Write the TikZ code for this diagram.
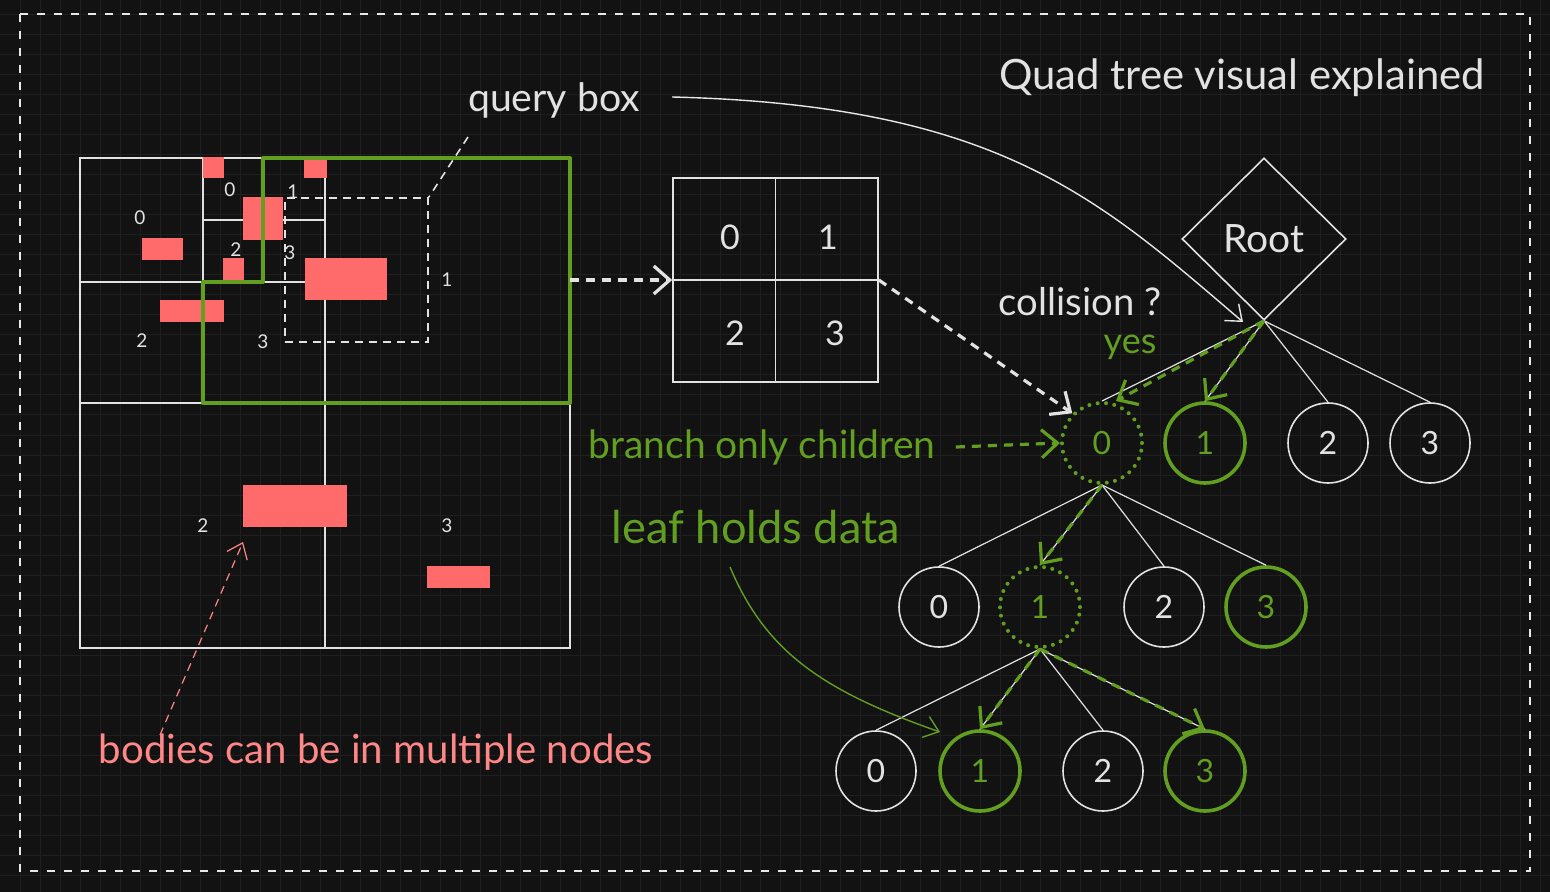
\documentclass[tikz,border=0pt]{standalone}
\usepackage{fontspec}
\setmainfont{Lato}
\usetikzlibrary{shapes.geometric, arrows.meta, positioning}
\definecolor{bgdark}{RGB}{18,18,18}
\definecolor{gridgray}{RGB}{31,31,31}
\definecolor{inkwhite}{RGB}{226,226,226}
\definecolor{hitgreen}{RGB}{98,158,32}
\definecolor{bodyred}{RGB}{255,107,107}
\definecolor{notepink}{RGB}{255,135,135}
\tikzstyle{cell} = [draw=inkwhite, line width=0.8pt]
\tikzstyle{flow} = [-{Straight Barb[length=8pt, width=14pt]}, line width=1.6pt, dash pattern=on 4.5pt off 3.5pt]

\begin{document}
\begin{tikzpicture}[x=0.5pt, y=-0.5pt,
  say/.style={text=inkwhite, font=\fontsize{19.5}{22}\selectfont, inner sep=0pt},
  tag/.style={text=inkwhite, font=\fontsize{9.5}{10}\selectfont, inner sep=0pt},
  leaf/.style={circle, draw=inkwhite, line width=0.8pt, minimum size=40pt, inner sep=0pt, text=inkwhite, font=\fontsize{16}{18}\selectfont},
  found/.style={leaf, draw=hitgreen, text=hitgreen, line width=1.8pt},
  branch/.style={leaf, draw=hitgreen, text=hitgreen, line width=2pt, line cap=round, dash pattern=on 0pt off 4.2pt},
  edge/.style={draw=inkwhite, line width=0.6pt},
  hit/.style={flow, draw=hitgreen, line width=1.6pt},
  thin/.style={line width=0.7pt, -{Straight Barb[length=7pt, width=11pt]}}]

  % background and grid
  \fill[bgdark] (0,0) rectangle (1550,892);
  \useasboundingbox (0,0) rectangle (1550,892);
  \foreach \x in {20,40,...,1540} \draw[gridgray, line width=0.5pt] (\x,0) -- (\x,892);
  \foreach \y in {15,35,...,875} \draw[gridgray, line width=0.5pt] (0,\y) -- (1550,\y);
  \draw[inkwhite!80, line width=0.8pt, dash pattern=on 4pt off 4.5pt] (20,14) rectangle (1530,871);

  \node[say, font=\fontsize{20.9}{23}\selectfont] (title) at (1242,78) {Quad tree visual explained};

  % quad tree space
  \draw[cell] (80,158) rectangle (570,648);
  \draw[cell] (325,158) -- (325,648);
  \draw[cell] (80,403) -- (570,403);
  \draw[cell] (203,158) -- (203,403);
  \draw[cell] (80,282) -- (325,282);
  \draw[cell] (264,158) -- (264,282);
  \draw[cell] (203,220) -- (325,220);

  \node[tag] (a0) at (140,218) {0};
  \node[tag] (a2) at (142,341) {2};
  \node[tag] (b0) at (230,190) {0};
  \node[tag] (b1) at (293,192) {1};
  \node[tag] (b2) at (236,250) {2};
  \node[tag] (b3) at (290,253) {3};
  \node[tag] (a3) at (263,342) {3};
  \node[tag] (q1) at (447,280) {1};
  \node[tag] (q2) at (203,526) {2};
  \node[tag] (q3) at (447,526) {3};

  % bodies
  \foreach \xa/\ya/\xb/\yb in {203/157/224/178, 304/157/327/178, 243/197/283/240, 142/238/183/260,
      223/258/244/280, 305/258/387/300, 160/300/224/322, 243/485/347/527, 427/566/490/588}
    \fill[bodyred] (\xa,\ya) rectangle (\xb,\yb);

  % query box
  \draw[hitgreen, line width=2pt, line join=round] (263,158) -- (570,158) -- (570,403) -- (203,403) -- (203,282) -- (263,282) -- cycle;
  \node[draw=inkwhite, line width=0.8pt, dash pattern=on 4pt off 3pt, minimum width=71.5pt, minimum height=72pt, inner sep=0pt] (qrect) at (356.5,270) {};
  \node[say, font=\fontsize{19.6}{22}\selectfont] (qlabel) at (554,100) {query box};
  \coordinate (qfoot) at (468,137);
  \draw[inkwhite, line width=0.8pt, dash pattern=on 4pt off 3pt] (qfoot) -- (qrect.north east);

  % node layout
  \node[cell, minimum width=102.5pt, minimum height=102pt, inner sep=0pt] (mid) at (775.5,280) {};
  \draw[cell] (mid.north) -- (mid.south);
  \draw[cell] (mid.west) -- (mid.east);
  \node[say, font=\fontsize{17}{18}\selectfont] (m0) at (730,237) {0};
  \node[say, font=\fontsize{17}{18}\selectfont] (m1) at (828,237) {1};
  \node[say, font=\fontsize{17}{18}\selectfont] (m2) at (735,333) {2};
  \node[say, font=\fontsize{17}{18}\selectfont] (m3) at (835,333) {3};
  \coordinate (qright) at (570,280);
  \draw[flow, draw=inkwhite] (qright) -- (mid.west);

  % tree
  \node[diamond, draw=inkwhite, line width=0.8pt, minimum width=82pt, minimum height=81pt, inner sep=0pt, say] (root) at (1264,239) {Root};

  \node[branch] (t0) at (1102,443) {0};
  \node[found] (t1) at (1205,443) {1};
  \node[leaf] (t2) at (1328,443) {2};
  \node[leaf] (t3) at (1430,443) {3};

  \node[leaf] (u0) at (939,607) {0};
  \node[branch] (u1) at (1040,607) {1};
  \node[leaf] (u2) at (1164,607) {2};
  \node[found] (u3) at (1266,607) {3};

  \node[leaf] (v0) at (876,771) {0};
  \node[found] (v1) at (980,771) {1};
  \node[leaf] (v2) at (1103,771) {2};
  \node[found] (v3) at (1205,771) {3};

  \foreach \k in {t0,t1,t2,t3} \draw[edge] (root.south) -- (\k.north);
  \foreach \k in {u0,u1,u2,u3} \draw[edge] (t0.south) -- (\k.north);
  \foreach \k in {v0,v1,v2,v3} \draw[edge] (u1.south) -- (\k.north);

  \draw[hit] (root.south) -- ([xshift=7pt]t0.north);
  \draw[hit] (root.south) -- (t1.north);
  \draw[hit] (t0.south) -- (u1.north);
  \draw[hit] (u1.south) -- (v1.north);
  \draw[hit] (u1.south) -- (v3.north);

  \draw[flow, draw=inkwhite] (mid.east) -- (t0.north west);
  \node[say, font=\fontsize{19.1}{21}\selectfont] (coll) at (1080,302) {collision ?};
  \node[say, font=\fontsize{18}{20}\selectfont, text=hitgreen] (yes) at (1130,347) {yes};

  \coordinate (rootin) at (1243,322);
  \draw[thin, inkwhite!85] (672,97) .. controls (1000,105) and (1100,200) .. (rootin);

  % notes
  \node[say, text=hitgreen] (bonly) at (762,447) {branch only children};
  \draw[hit] (bonly.east) ++(20,0) -- (t0.west);

  \node[say, font=\fontsize{22.6}{24}\selectfont, text=hitgreen] (lhold) at (756,527) {leaf holds data};
  \coordinate (leafstart) at (730,567);
  \coordinate (leafend) at (940,732);
  \draw[thin, hitgreen] (leafstart) .. controls (765,650) and (820,690) .. (leafend);

  \node[say, font=\fontsize{20.1}{22}\selectfont, text=notepink] (bodies) at (376,752) {bodies can be in multiple nodes};
  \coordinate (bodytip) at (243,542);
  \draw[thin, notepink, line width=0.6pt, dash pattern=on 4pt off 3pt] (160,735) -- (bodytip);
\end{tikzpicture}
\end{document}
